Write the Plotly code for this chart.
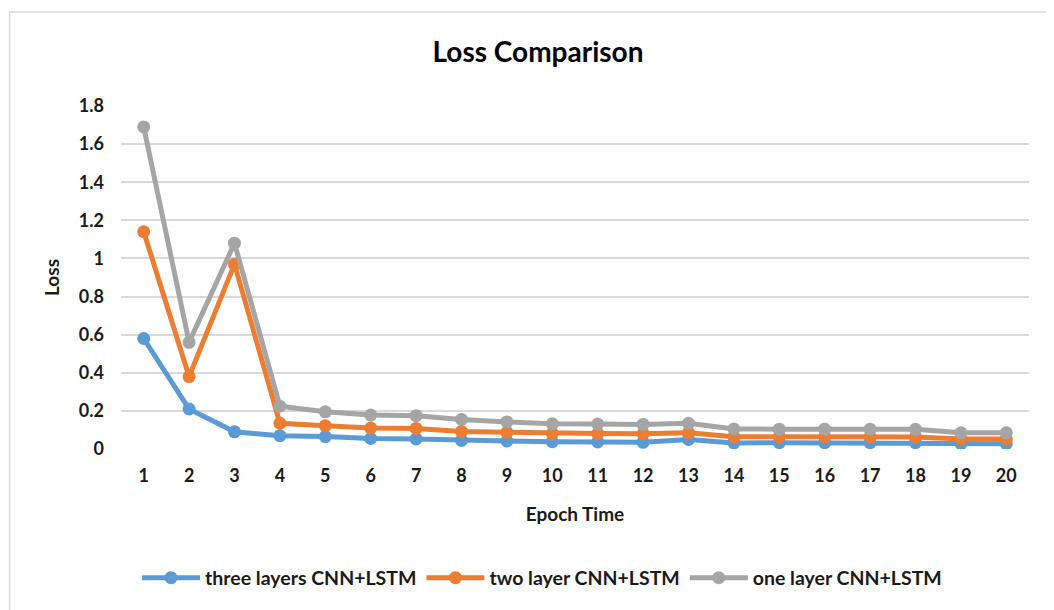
import plotly.graph_objects as go

epochs = list(range(1, 21))
three_layers = [0.58, 0.21, 0.09, 0.07, 0.065, 0.055, 0.053, 0.045, 0.042, 0.038, 0.037, 0.035, 0.05, 0.032, 0.033, 0.033, 0.033, 0.033, 0.028, 0.028]
two_layer = [1.14, 0.38, 0.97, 0.135, 0.122, 0.11, 0.108, 0.092, 0.088, 0.082, 0.081, 0.08, 0.085, 0.064, 0.064, 0.064, 0.064, 0.063, 0.053, 0.053]
one_layer = [1.69, 0.56, 1.08, 0.225, 0.195, 0.178, 0.175, 0.155, 0.142, 0.132, 0.131, 0.129, 0.135, 0.105, 0.104, 0.104, 0.104, 0.103, 0.085, 0.085]
y_ticks = [0, 0.2, 0.4, 0.6, 0.8, 1, 1.2, 1.4, 1.6, 1.8]
y_tick_labels = ["0", "0.2", "0.4", "0.6", "0.8", "1", "1.2", "1.4", "1.6", "1.8"]

series_names = ["three layers CNN+LSTM", "two layer CNN+LSTM", "one layer CNN+LSTM"]
series_colors = ["#5B9BD5", "#ED7D31", "#A5A5A5"]

fig = go.Figure()
for name, vals, col in zip(series_names, [three_layers, two_layer, one_layer], series_colors):
    fig.add_trace(go.Scatter(
        x=epochs, y=vals, name=name, mode="lines+markers",
        line=dict(color=col, width=5),
        marker=dict(color=col, size=13),
    ))

FONT = "Lato, 'Open Sans', sans-serif"
OFF = 8  # page body margin
W, H = 1054 - OFF, 610 - OFF
L = 121.3 - OFF
T = 106 - OFF
PR = 1028.7 - OFF
PB = 449 - OFF
R = W - PR
B = H - PB
PW = PR - L
PH = PB - T

fig.update_layout(
    width=W, height=H,
    margin=dict(l=L, r=R, t=T, b=B),
    paper_bgcolor="white", plot_bgcolor="white",
    font=dict(family=FONT, color="#1a1a1a"),
    title=dict(text="<b>Loss Comparison</b>", x=(538 - OFF) / W, xref="container", xanchor="center",
               y=1 - (52 - OFF) / H, yref="container", yanchor="middle",
               font=dict(size=28, color="#000000", family=FONT)),
    xaxis=dict(range=[0.5, 20.5], tickmode="array", tickvals=epochs, ticktext=[str(e) for e in epochs],
               showgrid=False, zeroline=False, showline=False, ticks="",
               ticklabelstandoff=14,
               tickfont=dict(size=18, family=FONT, color="#1a1a1a", weight="bold"),
               title=dict(text="<b>Epoch Time</b>", font=dict(size=19, family=FONT, color="#1a1a1a"), standoff=22)),
    yaxis=dict(range=[0, 1.8], tickmode="array", tickvals=y_ticks, ticktext=y_tick_labels,
               showgrid=True, gridcolor="#d9d9d9", gridwidth=1.5, zeroline=False, showline=False, ticks="",
               ticklabelstandoff=16,
               tickfont=dict(size=18, family=FONT, color="#1a1a1a", weight="bold"),
               title=dict(text="<b>Loss</b>", font=dict(size=19, family=FONT, color="#1a1a1a"), standoff=14)),
    legend=dict(orientation="h", x=(542 - OFF) / W, xref="container", xanchor="center",
                y=1 - (578 - OFF) / H, yref="container", yanchor="middle",
                font=dict(size=19.5, family=FONT, color="#1a1a1a", weight="bold"),
                itemwidth=58, tracegroupgap=0),
    showlegend=True,
)

fig.add_shape(type="rect", xref="paper", yref="paper",
              x0=(10 - OFF - L) / PW, x1=(1070 - OFF - L) / PW,
              y0=(PB - 640) / PH, y1=(PB - (12 - OFF)) / PH,
              line=dict(color="#d9d9d9", width=1.5), fillcolor="rgba(0,0,0,0)", layer="below")

fig.write_html("out.html")
